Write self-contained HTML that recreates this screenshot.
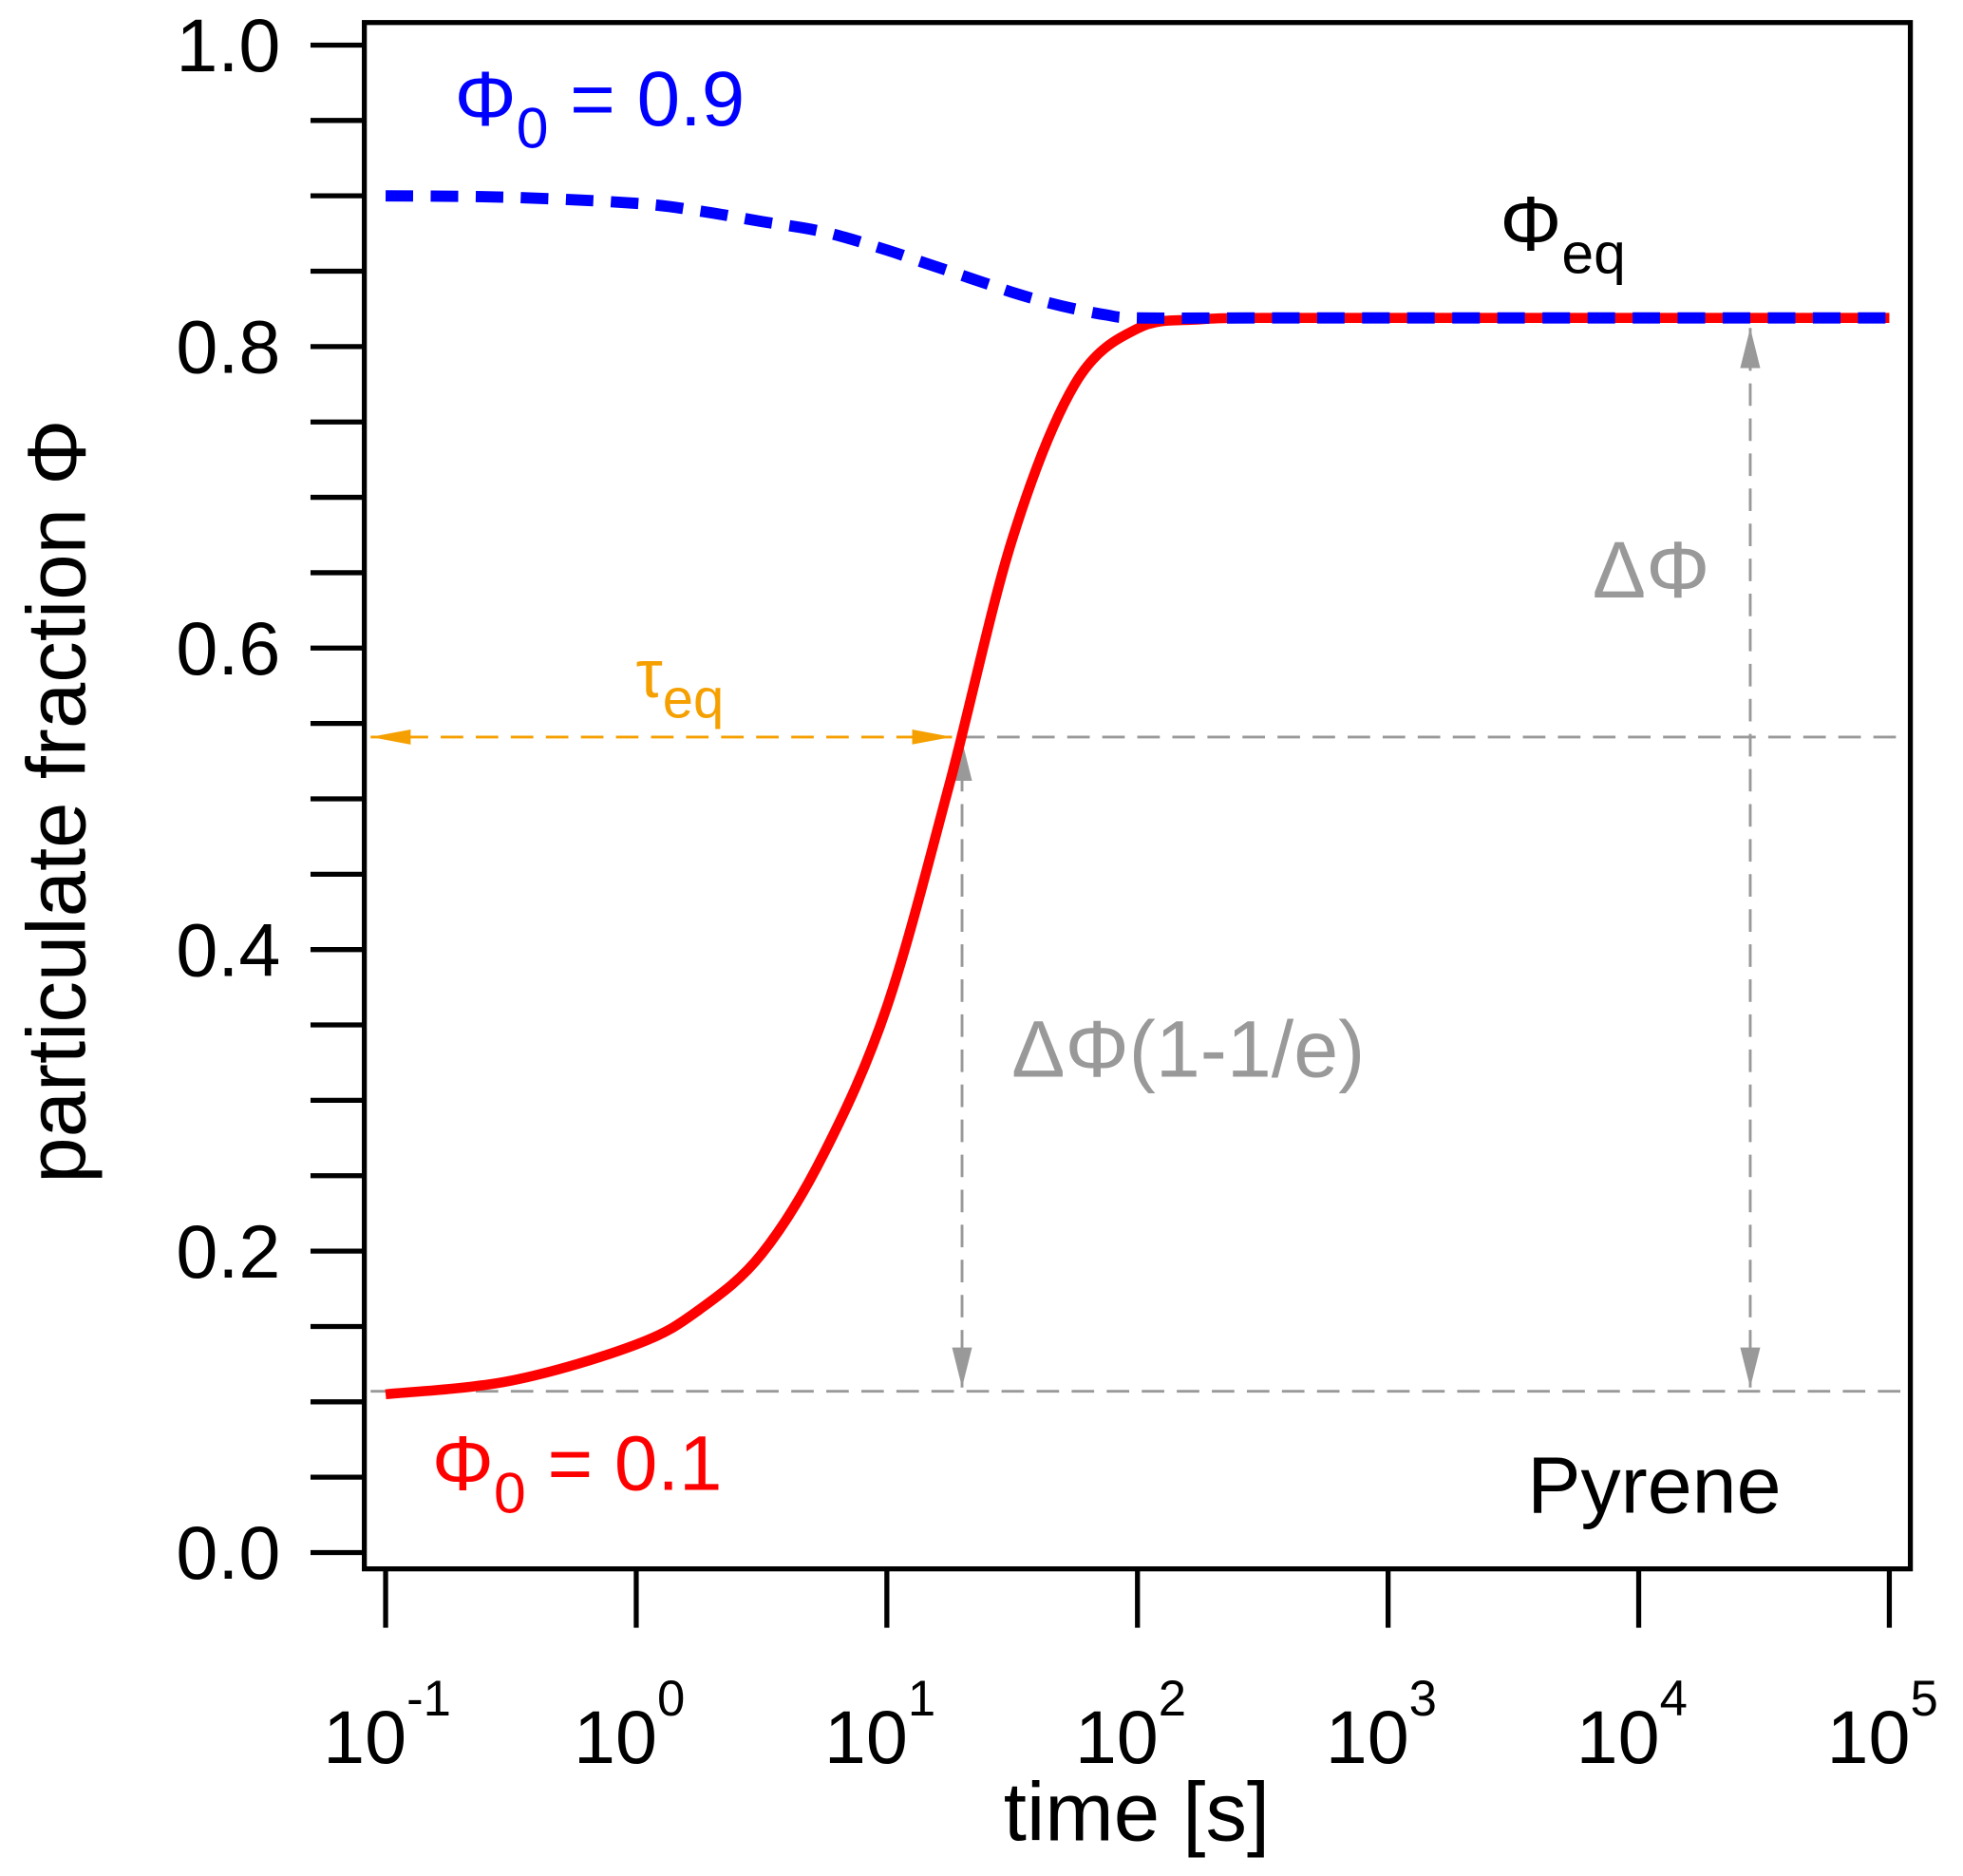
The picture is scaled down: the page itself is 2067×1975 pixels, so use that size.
<!DOCTYPE html>
<html><head><meta charset="utf-8"><style>html,body{margin:0;padding:0;background:#fff}svg{display:block}text{font-family:"Liberation Sans",sans-serif}</style></head>
<body>
<svg id="chart" width="2067" height="1975" viewBox="0 0 1568 1498.3" xmlns="http://www.w3.org/2000/svg">
<defs>
<marker id="ag" viewBox="0 0 32 16" refX="32" refY="8" markerWidth="32" markerHeight="16" orient="auto-start-reverse" markerUnits="userSpaceOnUse"><path d="M0,0L32,8L0,16z" fill="#999"/></marker>
<marker id="ao" viewBox="0 0 32 12" refX="32" refY="6" markerWidth="32" markerHeight="12" orient="auto-start-reverse" markerUnits="userSpaceOnUse"><path d="M0,0L32,6L0,12z" fill="#f5a000"/></marker>
</defs>
<g id="axes"></g>
<g id="guides"></g>
<g id="series"></g>
<rect x="291" y="18" width="1235" height="1235" fill="none" stroke="#000" stroke-width="4"/>
<text x="363" y="100" font-size="62" fill="#0000ff">Φ<tspan font-size="46" dy="18">0</tspan><tspan dy="-18"> = 0.9</tspan></text>
<text x="1198" y="200" font-size="62" fill="#000">Φ<tspan font-size="46" dy="18">eq</tspan></text>
<text x="1272" y="477" font-size="64" fill="#999">ΔΦ</text>
<text x="808" y="860" font-size="64" fill="#999">ΔΦ(1-1/e)</text>
<text x="508" y="557" font-size="54" fill="#f5a000">τ<tspan font-size="44" dy="16">eq</tspan></text>
<text x="345" y="1190" font-size="62" fill="#ff0000">Φ<tspan font-size="46" dy="18">0</tspan><tspan dy="-18"> = 0.1</tspan></text>
<text x="1220" y="1208" font-size="64" fill="#000">Pyrene</text>
<text x="908" y="1470" font-size="66" text-anchor="middle">time [s]</text>
<text transform="translate(68,640) rotate(-90)" font-size="66" text-anchor="middle">particulate fraction Φ</text>
</svg>
<script>
const redLogTime = [-1,-0.5,0,0.25,0.5,0.75,1,1.25,1.5,1.75,2,2.25,2.5,3,4,5];
const redValues = [0.105,0.114,0.138,0.161,0.198,0.265,0.362,0.51,0.672,0.775,0.812,0.818,0.819,0.819,0.819,0.819];
const blueLogTime = [-1,-0.5,0,0.25,0.5,0.75,1,1.125,1.25,1.375,1.5,1.625,1.75,1.875,2,2.5,3,4,5];
const blueValues = [0.9,0.899,0.895,0.89,0.883,0.876,0.864,0.857,0.85,0.843,0.836,0.83,0.825,0.821,0.819,0.819,0.819,0.819,0.819];
const yTicks = [0,0.2,0.4,0.6,0.8,1.0];
const yTickLabels = ["0.0","0.2","0.4","0.6","0.8","1.0"];
const xTicks = [-1,0,1,2,3,4,5];
const xTickLabels = ["-1","0","1","2","3","4","5"];
const phi0 = 0.107, phiTau = 0.541, phiEq = 0.819, logTau = 1.3, logDelta = 4.445;

const NS = "http://www.w3.org/2000/svg";
const X = v => 308 + (v + 1) * 200.2;
const Y = v => 1240 - v * 1204;
function mk(tag, attrs, parent) {
  const e = document.createElementNS(NS, tag);
  for (const k in attrs) e.setAttribute(k, attrs[k]);
  parent.appendChild(e);
  return e;
}
const axes = document.getElementById('axes');
for (let i = 0; i <= 20; i++) {
  const v = i * 0.05;
  const t = mk('line', {x1: 248, x2: 291, y1: Y(v), y2: Y(v), stroke: '#000', 'stroke-width': 4}, axes);
  
  
}
yTicks.forEach((v, i) => {
  const t = mk('text', {x: 224, y: Y(v) + 21, 'font-size': 60, 'text-anchor': 'end'}, axes);
  t.textContent = yTickLabels[i];
  
  
});
xTicks.forEach((v, i) => {
  const l = mk('line', {x1: X(v), x2: X(v), y1: 1253, y2: 1300, stroke: '#000', 'stroke-width': 4}, axes);
  
  
  const t = mk('text', {x: X(v) - 50, y: 1408, 'font-size': 60}, axes);
  
  
  t.appendChild(document.createTextNode('10'));
  const s = mk('tspan', {'font-size': 40, dy: -38}, t);
  s.textContent = xTickLabels[i];
});
const g = document.getElementById('guides');
const dash = {stroke: '#999', 'stroke-width': 2.2, 'stroke-dasharray': '18 10', fill: 'none'};
let e;
e = mk('line', Object.assign({x1: 296, x2: 1526, y1: Y(phi0), y2: Y(phi0)}, dash), g);
 
e = mk('line', Object.assign({x1: X(logTau), x2: 1526, y1: Y(phiTau), y2: Y(phiTau)}, dash), g);
 
e = mk('line', {x1: 296, x2: X(logTau) - 8, y1: Y(phiTau), y2: Y(phiTau), stroke: '#f5a000', 'stroke-width': 2.2, 'stroke-dasharray': '18 10', 'marker-start': 'url(#ao)', 'marker-end': 'url(#ao)'}, g);
 
e = mk('line', Object.assign({x1: X(logTau), x2: X(logTau), y1: Y(phi0) - 3, y2: Y(phiTau) + 3, 'marker-start': 'url(#ag)', 'marker-end': 'url(#ag)'}, dash), g);
 
e = mk('line', Object.assign({x1: X(logDelta), x2: X(logDelta), y1: Y(phi0) - 3, y2: Y(phiEq) + 8, 'marker-start': 'url(#ag)', 'marker-end': 'url(#ag)'}, dash), g);
 

const ser = document.getElementById('series');
function pathFor(ts, vals) {
  const p = ts.map((t, i) => [X(t), Y(vals[i])]);
  let d = 'M' + p[0][0].toFixed(1) + ',' + p[0][1].toFixed(1);
  for (let i = 0; i < p.length - 1; i++) {
    const p0 = p[Math.max(0, i - 1)], p1 = p[i], p2 = p[i + 1], p3 = p[Math.min(p.length - 1, i + 2)];
    const c1 = [p1[0] + (p2[0] - p0[0]) / 6, p1[1] + (p2[1] - p0[1]) / 6];
    const c2 = [p2[0] - (p3[0] - p1[0]) / 6, p2[1] - (p3[1] - p1[1]) / 6];
    d += 'C' + c1.map(v => v.toFixed(1)).join(',') + ' ' + c2.map(v => v.toFixed(1)).join(',') + ' ' + p2[0].toFixed(1) + ',' + p2[1].toFixed(1);
  }
  return d;
}
e = mk('path', {d: pathFor(redLogTime, redValues), stroke: '#ff0000', 'stroke-width': 8, fill: 'none', 'stroke-linejoin': 'round'}, ser);
 
e = mk('path', {d: pathFor(blueLogTime, blueValues), stroke: '#0000ff', 'stroke-width': 9, fill: 'none', 'stroke-dasharray': '22 14'}, ser);
 
</script>
</body></html>
